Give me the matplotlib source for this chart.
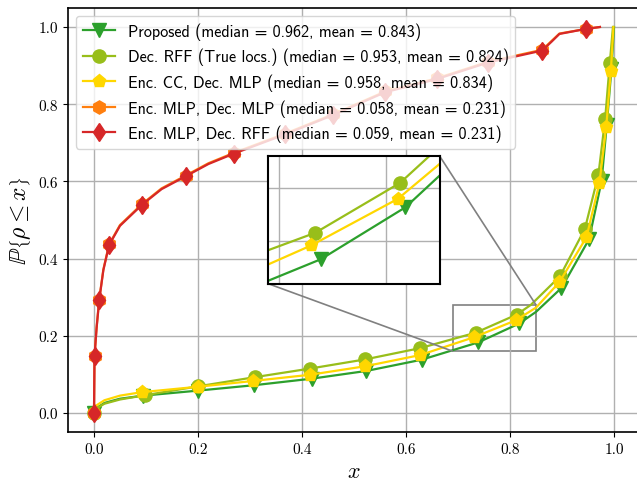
import matplotlib
matplotlib.use('Agg')
import matplotlib.pyplot as plt
from mpl_toolkits.axes_grid1.inset_locator import mark_inset

plt.rcParams['font.family'] = 'serif'
plt.rcParams['font.serif'] = ['cmr10']
plt.rcParams['mathtext.fontset'] = 'cm'
plt.rcParams['axes.unicode_minus'] = False

# CDF samples (x, P{rho <= x})
x_prop = [0.0, 0.005, 0.02, 0.05, 0.095, 0.2, 0.308, 0.419, 0.524, 0.63, 0.739, 0.818, 0.85, 0.899, 0.952, 0.976, 0.986, 0.995, 1.0]
y_prop = [0.0, 0.013, 0.026, 0.037, 0.045, 0.058, 0.072, 0.089, 0.109, 0.138, 0.183, 0.232, 0.262, 0.324, 0.45, 0.6, 0.745, 0.89, 1.0]
mk_prop = [0, 4, 5, 6, 7, 8, 9, 10, 11, 13, 14, 15, 16, 17]

x_rff = [0.0, 0.005, 0.02, 0.05, 0.098, 0.2, 0.31, 0.415, 0.522, 0.627, 0.734, 0.813, 0.84, 0.896, 0.944, 0.97, 0.983, 0.992, 0.998]
y_rff = [0.0, 0.012, 0.024, 0.035, 0.046, 0.069, 0.093, 0.115, 0.139, 0.168, 0.208, 0.255, 0.28, 0.354, 0.477, 0.617, 0.762, 0.908, 1.0]
mk_rff = [0, 4, 5, 6, 7, 8, 9, 10, 11, 13, 14, 15, 16, 17]

x_cc = [0.0, 0.005, 0.02, 0.05, 0.092, 0.2, 0.306, 0.415, 0.521, 0.627, 0.730, 0.811, 0.85, 0.895, 0.947, 0.972, 0.985, 0.994, 0.999]
y_cc = [0.0, 0.02, 0.033, 0.045, 0.054, 0.068, 0.083, 0.099, 0.121, 0.150, 0.196, 0.240, 0.273, 0.339, 0.455, 0.596, 0.74, 0.887, 1.0]
mk_cc = [0, 4, 5, 6, 7, 8, 9, 10, 11, 13, 14, 15, 16, 17]

x_mlp = [0.0, 0.0005, 0.001, 0.005, 0.010, 0.018, 0.029, 0.05, 0.092, 0.13, 0.176, 0.22, 0.269, 0.368, 0.46, 0.56, 0.659, 0.758, 0.862, 0.88, 0.895, 0.946, 0.973]
y_mlp = [0.0, 0.075, 0.147, 0.222, 0.294, 0.372, 0.437, 0.487, 0.541, 0.582, 0.615, 0.647, 0.674, 0.724, 0.774, 0.833, 0.867, 0.91, 0.941, 0.964, 0.983, 0.995, 1.0]

x_red = [0.0, 0.0005, 0.001, 0.005, 0.010, 0.018, 0.029, 0.05, 0.092, 0.13, 0.176, 0.22, 0.269, 0.368, 0.46, 0.56, 0.659, 0.758, 0.862, 0.88, 0.895, 0.946, 0.973]
y_red = [0.0, 0.075, 0.147, 0.22, 0.292, 0.37, 0.435, 0.485, 0.539, 0.58, 0.613, 0.645, 0.672, 0.722, 0.772, 0.831, 0.865, 0.908, 0.939, 0.962, 0.982, 0.995, 1.0]
mk_red = [0, 2, 4, 6, 8, 10, 12, 13, 14, 15, 16, 17, 18, 21]

series = [
    (x_prop, y_prop, mk_prop, '#2ca02c', 'v', 'Proposed (median = 0.962, mean = 0.843)'),
    (x_rff, y_rff, mk_rff, '#98be1a', 'o', 'Dec. RFF (True locs.) (median = 0.953, mean = 0.824)'),
    (x_cc, y_cc, mk_cc, '#ffd700', 'p', 'Enc. CC, Dec. MLP (median = 0.958, mean = 0.834)'),
    (x_mlp, y_mlp, mk_red, '#ff7f0e', 'h', 'Enc. MLP, Dec. MLP (median = 0.058, mean = 0.231)'),
    (x_red, y_red, mk_red, '#d62728', 'd', 'Enc. MLP, Dec. RFF (median = 0.059, mean = 0.231)'),
]

fig = plt.figure(figsize=(6.37, 4.81), dpi=100)
ax = fig.add_axes([68/637, 47.7/481, 572/637, 424.6/481])

for xs, ys, mk, c, m, lab in series:
    ax.plot(xs, ys, color=c, lw=1.6, marker=m, markersize=9.5, markevery=mk, label=lab)

ax.set_xlim(-0.05, 1.05)
ax.set_ylim(-0.05, 1.05)
ax.set_xticks([0.0, 0.2, 0.4, 0.6, 0.8, 1.0])
ax.set_yticks([0.0, 0.2, 0.4, 0.6, 0.8, 1.0])
ax.tick_params(labelsize=11)
ax.grid(True, color='#b0b0b0', lw=1.0)
for s in ax.spines.values():
    s.set_linewidth(1.2)
ax.set_xlabel(r'$x$', fontsize=16)
ax.set_ylabel(r'$\mathbb{P}\left\{\rho \leq x\right\}$', fontsize=17)

leg = ax.legend(loc='upper left', prop={'family': 'cmss10', 'size': 11.65}, framealpha=0.8)

# zoomed inset
axins = ax.inset_axes([0.35, 0.35, 0.30, 0.30])
for xs, ys, mk, c, m, lab in series:
    axins.plot(xs, ys, color=c, lw=1.6, marker=m, markersize=9.5, markevery=mk)
axins.set_xlim(0.69, 0.85)
axins.set_ylim(0.16, 0.28)
axins.set_xticks([0.7, 0.8])
axins.set_yticks([0.2, 0.25])
axins.tick_params(length=0, labelbottom=False, labelleft=False)
axins.grid(True, color='#b0b0b0', lw=1.0)
for s in axins.spines.values():
    s.set_linewidth(1.5)
mark_inset(ax, axins, loc1=1, loc2=3, fc='none', ec='0.5', lw=1.2)

fig.savefig('out.png', dpi=100)
